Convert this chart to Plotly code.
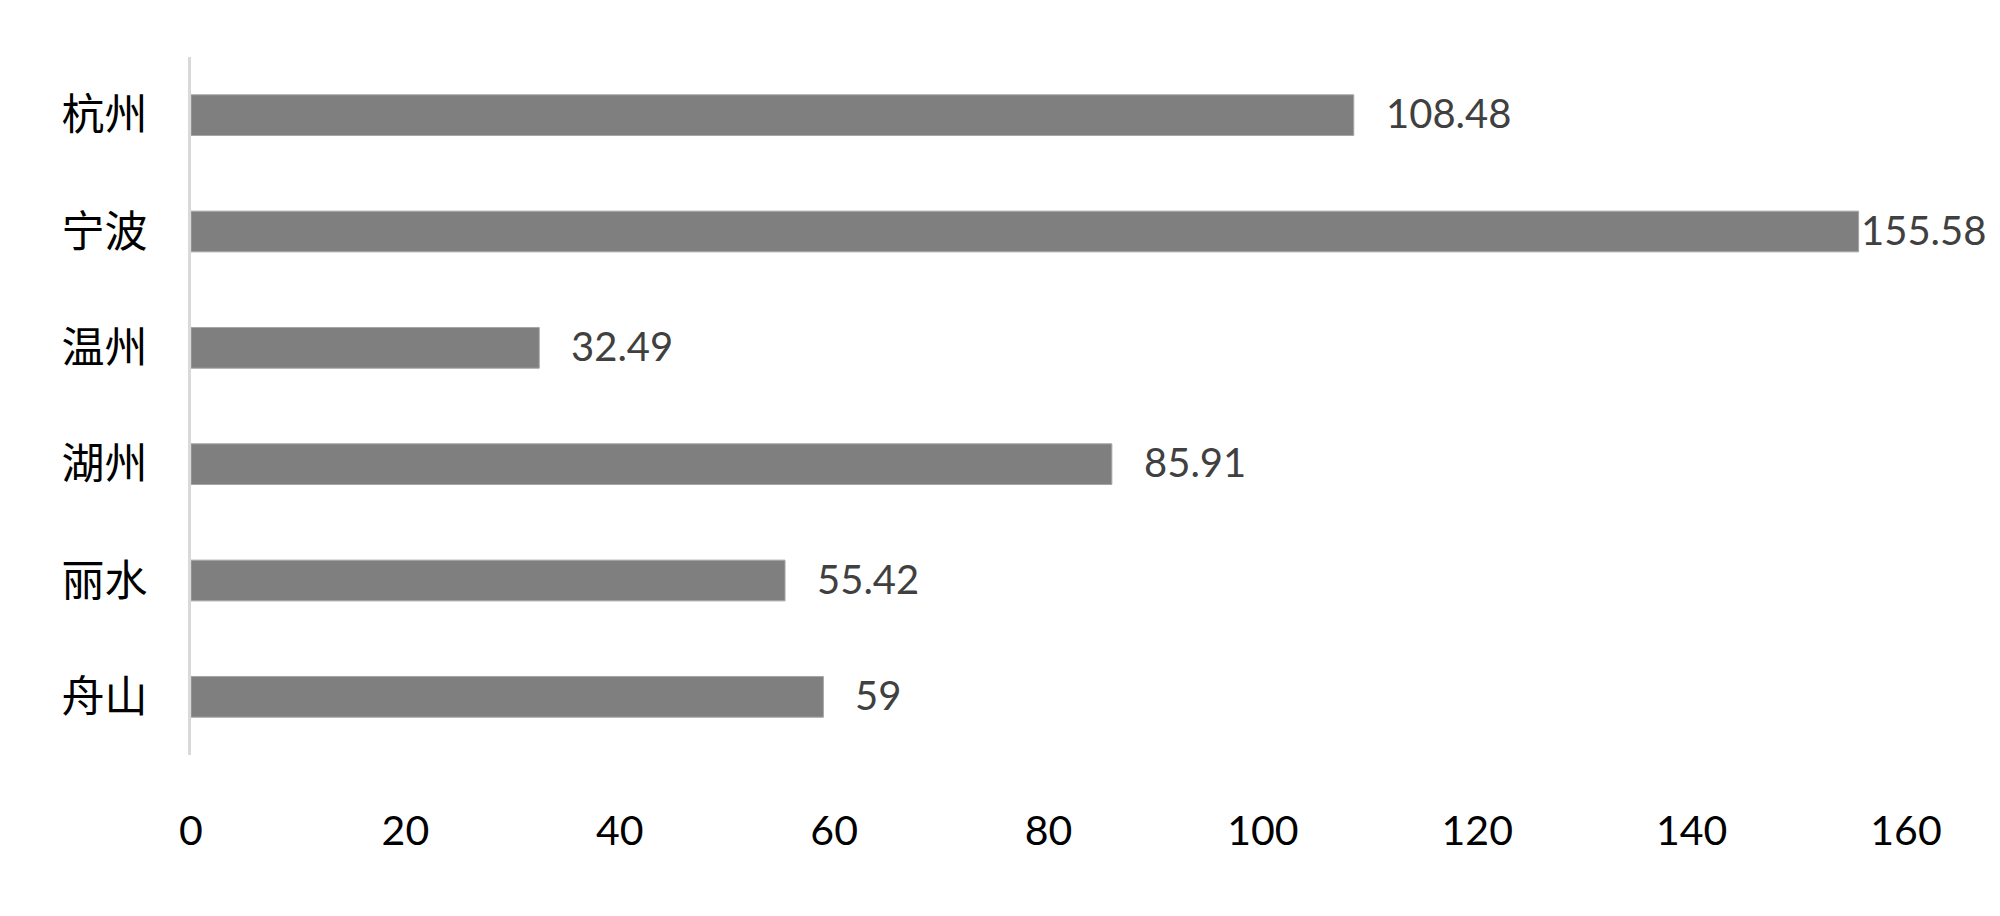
import plotly.graph_objects as go

cities = ["杭州", "宁波", "温州", "湖州", "丽水", "舟山"]
values = [108.48, 155.58, 32.49, 85.91, 55.42, 59]
labels = ["108.48", "155.58", "32.49", "85.91", "55.42", "59"]
label_shift = [30, 0, 30, 30, 30, 30]
x_ticks = [0, 20, 40, 60, 80, 100, 120, 140, 160]

fig = go.Figure()
fig.add_trace(go.Bar(
    x=values, y=cities, orientation="h",
    marker=dict(color="#7f7f7f", line=dict(color="#a6a6a6", width=1)),
    width=0.35, hoverinfo="skip",
))

for v, c, t, s in zip(values, cities, labels, label_shift):
    fig.add_annotation(x=v, y=c, text=t, showarrow=False, xanchor="left",
                       xshift=s, yshift=2,
                       font=dict(family="Lato, Open Sans, sans-serif", size=40, color="#404040"))

fig.update_layout(
    width=1992, height=908,
    margin=dict(l=183, r=94, t=49, b=161),
    plot_bgcolor="white", paper_bgcolor="white",
    showlegend=False,
    xaxis=dict(range=[0, 160], tickvals=x_ticks, showgrid=False, zeroline=False,
               showline=False, ticks="", ticklabelstandoff=48,
               tickfont=dict(family="Lato, Open Sans, sans-serif", size=41, color="#000000")),
    yaxis=dict(categoryorder="array", categoryarray=cities, autorange="reversed",
               showgrid=False, zeroline=False, showline=True, linecolor="#d9d9d9",
               linewidth=3, ticks="", ticklabelstandoff=32,
               tickfont=dict(family="Noto Sans CJK SC", size=43, color="#000000")),
)

fig.write_html("out.html")
